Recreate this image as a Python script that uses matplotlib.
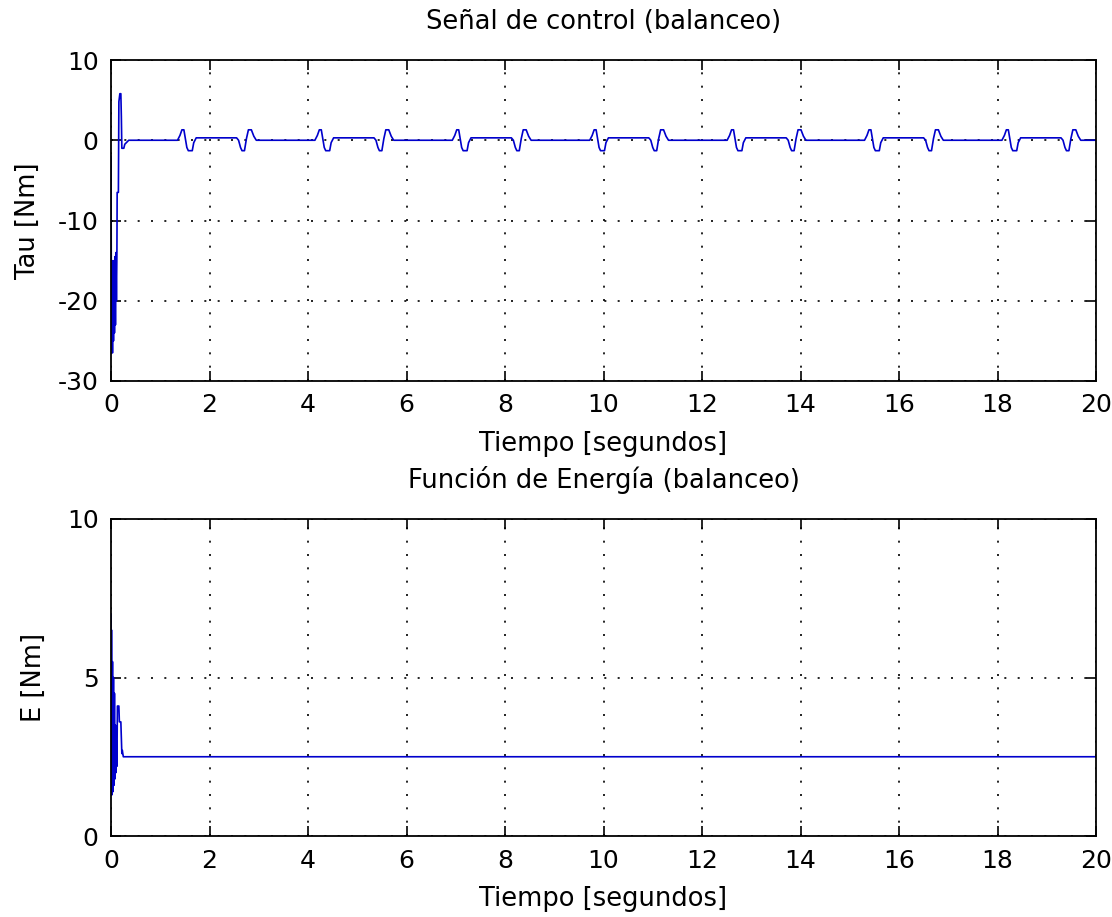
import matplotlib
matplotlib.use("Agg")
import matplotlib.pyplot as plt
import numpy as np

# señal de control: transitorio inicial (t, tau)
t_ini = [0.00, 0.01, 0.02, 0.03, 0.04, 0.05, 0.06, 0.07, 0.08, 0.09, 0.10,
         0.11, 0.12, 0.125, 0.15, 0.16, 0.18, 0.20, 0.21, 0.22, 0.26, 0.28, 0.36]
tau_ini = [-2.0, -26.0, -15.0, -26.5, -16.0, -25.0, -15.0, -24.0, -14.5, -23.0, -14.0,
           -20.0, -14.0, -6.5, -6.5, 4.8, 5.8, 5.8, 3.0, -1.0, -1.0, -0.5, 0.0]

# forma de un ciclo de balanceo (desfase desde el inicio del pulso, tau)
ciclo_dt = [0.00, 0.05, 0.09, 0.13, 0.16, 0.19, 0.22, 0.30, 0.33, 0.38,
            1.20, 1.24, 1.28, 1.31, 1.36, 1.40, 1.44, 1.50, 1.55, 1.60]
ciclo_tau = [0.0, 0.6, 1.3, 1.3, 0.2, -0.9, -1.3, -1.3, -0.3, 0.3,
             0.3, 0.0, -0.9, -1.3, -1.3, 0.2, 1.3, 1.3, 0.5, 0.0]
inicio_pulsos = [1.35, 4.14, 6.93, 9.72, 12.51, 15.30, 18.09]

# función de energía (t, E)
t_E = [0.00, 0.005, 0.01, 0.02, 0.03, 0.04, 0.05, 0.06, 0.07, 0.08, 0.09, 0.10,
       0.11, 0.12, 0.13, 0.16, 0.17, 0.20, 0.22, 0.23, 0.25, 20.0]
E = [7.0, 1.5, 6.5, 1.3, 5.5, 1.4, 5.0, 1.6, 4.5, 1.8, 3.5, 2.0,
     3.0, 2.2, 4.1, 4.1, 3.6, 3.6, 2.6, 2.7, 2.5, 2.5]

t_tau = list(t_ini)
tau = list(tau_ini)
for t0 in inicio_pulsos:
    t_tau += [t0 + d for d in ciclo_dt]
    tau += ciclo_tau
t_tau.append(20.0)
tau.append(0.0)

plt.rcParams['font.family'] = ['DejaVu Sans']
plt.rcParams['font.size'] = 18
plt.rcParams['axes.unicode_minus'] = False

fig = plt.figure(figsize=(11.12, 9.17), dpi=100)
ax1 = fig.add_axes([111/1112, 1 - 381/917, 985/1112, 321/917])
ax2 = fig.add_axes([111/1112, 1 - 836/917, 985/1112, 317/917])

for ax in (ax1, ax2):
    ax.set_xlim(0, 20)
    ax.set_xticks(np.arange(0, 21, 2))
    ax.grid(True, color='black', linestyle=(0, (1.2, 6.8)), linewidth=1.2)
    ax.tick_params(direction='in', top=True, right=True, length=7,
                   width=1.2, pad=9, labelsize=18)
    ax.set_xlabel("Tiempo [segundos]", labelpad=10, fontsize=18.5)
    for s in ax.spines.values():
        s.set_linewidth(1.3)

ax1.plot(t_tau, tau, color='#0000cc', linewidth=1.2)
ax1.set_ylim(-30, 10)
ax1.set_yticks([-30, -20, -10, 0, 10])
ax1.set_ylabel("Tau [Nm]", labelpad=12, fontsize=18.5)
ax1.set_title("Señal de control (balanceo)", pad=22, fontsize=18.5)

ax2.plot(t_E, E, color='#0000cc', linewidth=1.2)
ax2.set_ylim(0, 10)
ax2.set_yticks([0, 5, 10])
ax2.set_ylabel("E [Nm]", labelpad=14, fontsize=18.5)
ax2.set_title("Función de Energía (balanceo)", pad=22, fontsize=18.5)

fig.savefig("out.png", dpi=100)
